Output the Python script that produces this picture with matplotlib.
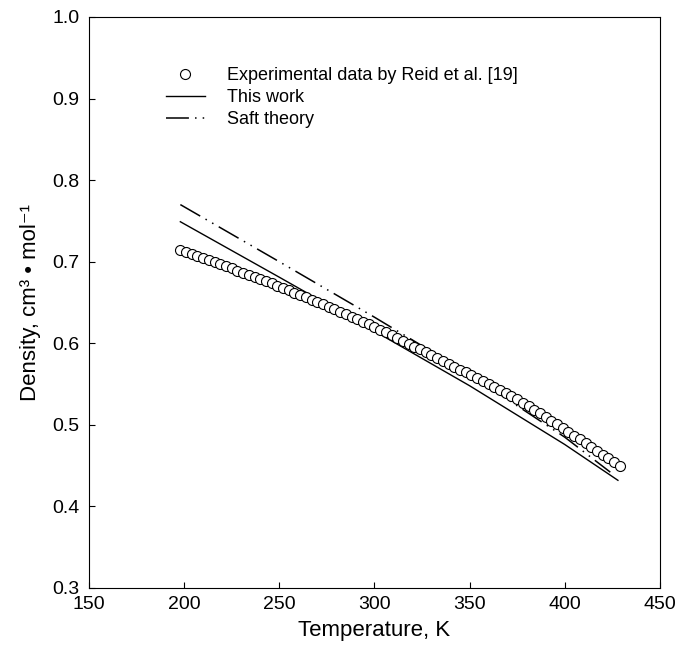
import matplotlib
matplotlib.use("Agg")
import matplotlib.pyplot as plt

plt.rcParams['font.family'] = ['Liberation Sans', 'DejaVu Sans']

exp_T = [198, 201, 204, 207, 210, 213, 216, 219, 222, 225, 228, 231, 234, 237,
         240, 243, 246, 249, 252, 255, 258, 261, 264, 267, 270, 273, 276, 279,
         282, 285, 288, 291, 294, 297, 300, 303, 306, 309, 312, 315, 318, 321,
         324, 327, 330, 333, 336, 339, 342, 345, 348, 351, 354, 357, 360, 363,
         366, 369, 372, 375, 378, 381, 384, 387, 390, 393, 396, 399, 402, 405,
         408, 411, 414, 417, 420, 423, 426, 429]
exp_rho = [0.7140, 0.7116, 0.7092, 0.7068, 0.7043, 0.7018, 0.6993, 0.6968,
           0.6943, 0.6918, 0.6892, 0.6866, 0.6840, 0.6814, 0.6787, 0.6760,
           0.6733, 0.6706, 0.6678, 0.6650, 0.6622, 0.6593, 0.6564, 0.6535,
           0.6506, 0.6476, 0.6446, 0.6416, 0.6386, 0.6356, 0.6325, 0.6294,
           0.6263, 0.6232, 0.6200, 0.6168, 0.6136, 0.6100, 0.6060, 0.6026,
           0.5992, 0.5958, 0.5924, 0.5889, 0.5854, 0.5819, 0.5784, 0.5748,
           0.5712, 0.5678, 0.5644, 0.5609, 0.5574, 0.5539, 0.5503, 0.5467,
           0.5430, 0.5393, 0.5353, 0.5312, 0.5270, 0.5228, 0.5185, 0.5141,
           0.5097, 0.5052, 0.5007, 0.4961, 0.4915, 0.4869, 0.4823, 0.4776,
           0.4729, 0.4682, 0.4635, 0.4588, 0.4541, 0.4494]

# this work
work_T = [198, 250, 300, 350, 400, 428]
work_rho = [0.749, 0.681, 0.615, 0.548, 0.476, 0.432]

# saft theory
saft_T = [198, 250, 300, 350, 400, 424]
saft_rho = [0.770, 0.700, 0.632, 0.562, 0.485, 0.442]

fig = plt.figure(figsize=(6.76, 6.46), dpi=100)
ax = fig.add_axes([0.1317, 0.0898, 0.8443, 0.8839])

ax.plot(exp_T, exp_rho, 'o', mfc='white', mec='black', ms=7.2, mew=0.8,
        label='Experimental data by Reid et al. [19]', zorder=3)
ax.plot(work_T, work_rho, '-', color='black', lw=1.0, label='This work')
ax.plot(saft_T, saft_rho, color='black', lw=1.1,
        linestyle=(0, (15, 4, 1, 4, 1, 4)), label='Saft theory')

ax.set_xlim(150, 450)
ax.set_ylim(0.3, 1.0)
ax.set_xticks([150, 200, 250, 300, 350, 400, 450])
ax.set_yticks([0.3, 0.4, 0.5, 0.6, 0.7, 0.8, 0.9, 1.0])
ax.set_yticklabels(['0.3', '0.4', '0.5', '0.6', '0.7', '0.8', '0.9', '1.0'])
ax.tick_params(direction='in', length=4, width=0.8, labelsize=14)
ax.tick_params(axis='y', pad=7)
ax.tick_params(axis='x', pad=6)
for s in ax.spines.values():
    s.set_linewidth(0.8)

ax.set_xlabel('Temperature, K', fontsize=16, labelpad=5)
ax.set_ylabel('Density, cm³ • mol⁻¹', fontsize=16, labelpad=8)

ax.legend(loc='upper left', bbox_to_anchor=(0.134, 0.912), frameon=False,
          fontsize=13, handlelength=2.2, handletextpad=1.2, labelspacing=0.28,
          borderpad=0, borderaxespad=0)

fig.savefig('out.png', dpi=100)
